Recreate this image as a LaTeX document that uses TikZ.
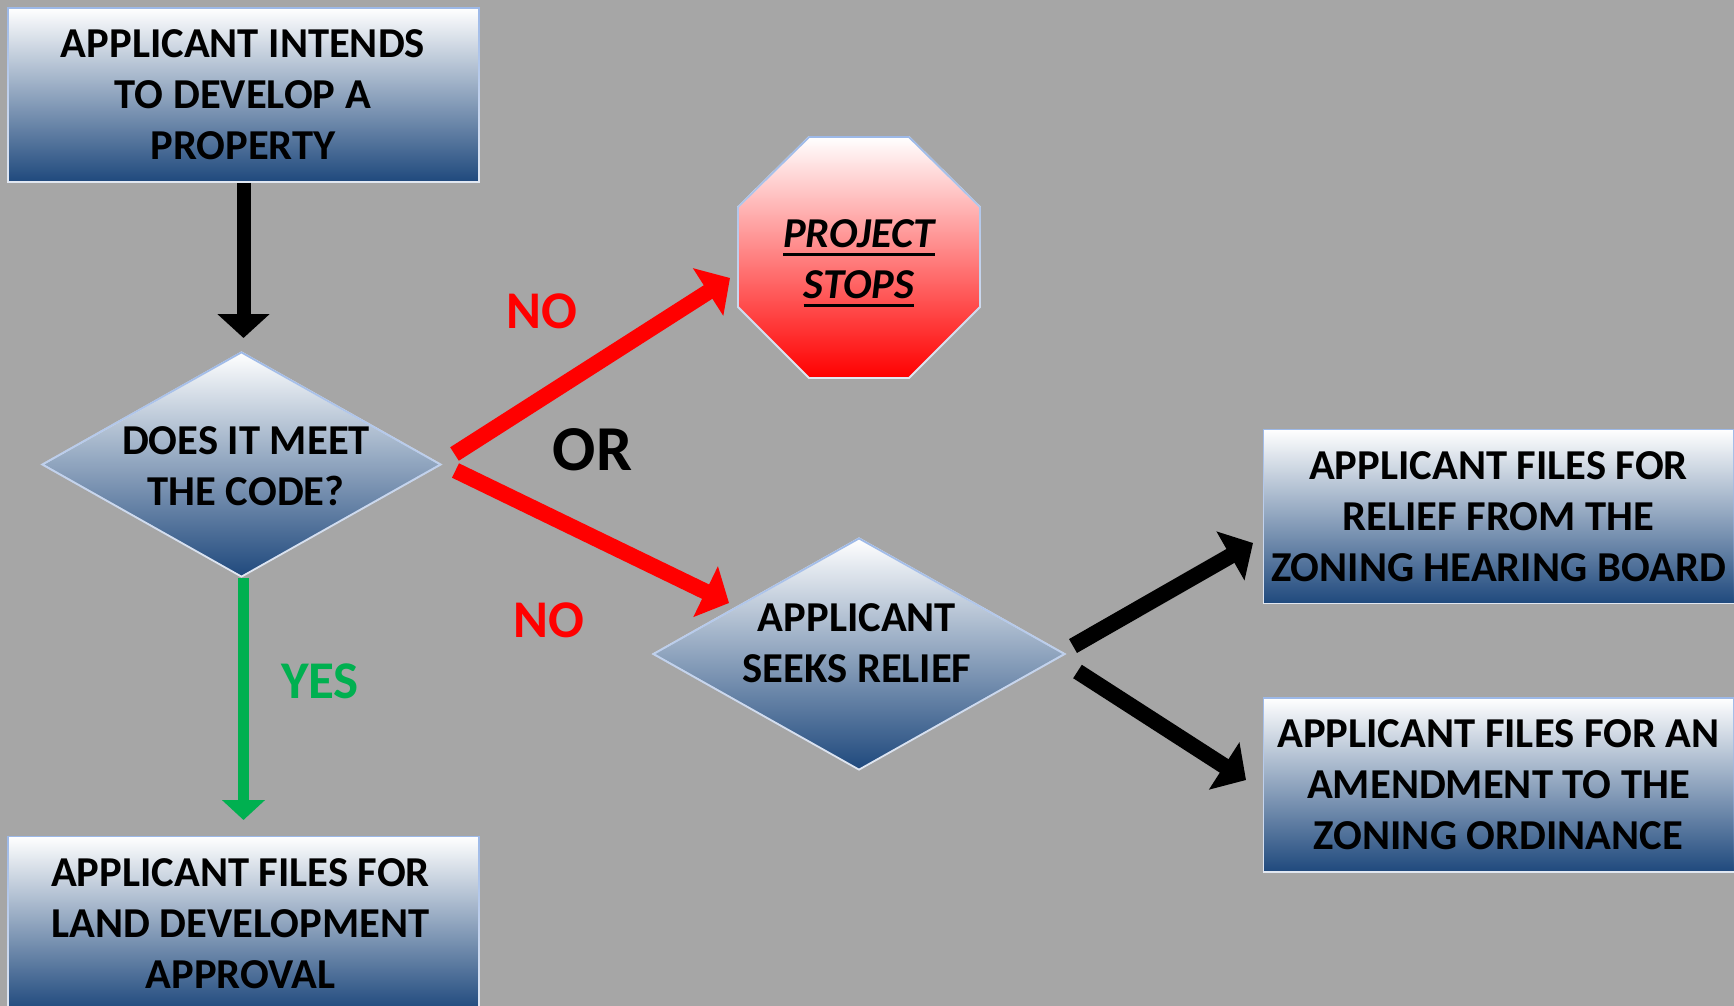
\documentclass[tikz,border=0pt]{standalone}
\usepackage{fontspec}
\setmainfont{Carlito}
\usetikzlibrary{arrows.meta,shapes.geometric,fadings}
\definecolor{bg}{HTML}{A6A6A6}
\definecolor{navy}{HTML}{1F497D}
\definecolor{edgetop}{HTML}{9DB9E8}
\definecolor{edgebot}{HTML}{E2E8F2}
\definecolor{nogreen}{HTML}{00B050}
\tikzset{
  x=1pt,y=-1pt,
  edged/.style={draw=edgebot,line width=1.8pt,
    postaction={draw=edgetop,line width=1.8pt,path fading=south}},
  bluefill/.style={top color=white,bottom color=navy},
  flowbox/.style={rectangle,bluefill,edged,inner sep=0pt,minimum width=471pt,minimum height=174pt},
  choice/.style={diamond,bluefill,edged,inner sep=0pt,aspect=1.77},
  bodytext/.style={align=center,font=\fontsize{42.6}{51}\selectfont\bfseries,inner sep=0pt},
  lab/.style={font=\fontsize{53}{60}\selectfont\bfseries,inner sep=0pt},
  bigarrow/.style={line width=16pt,-{Triangle[length=26pt,width=55pt]}},
}
\newlength{\ullen}
\newcommand{\ulrule}[1]{\settowidth{\ullen}{#1}\rlap{\rule[-8.5pt]{\ullen}{3pt}}#1}
\begin{document}
\begin{tikzpicture}
\useasboundingbox (0,0) rectangle (1734,1006);
\fill[bg] (0,0) rectangle (1734,1006);
\clip (0,0) rectangle (1734,1006);

\node[flowbox] (intends) at (243.5,95) {};
\node[flowbox] (land) at (243.5,923.5) {};
\node[flowbox] (zhb) at (1499,516.5) {};
\node[flowbox] (amend) at (1499,785) {};
\node[bodytext] (intendstext) at (243,95) {APPLICANT INTENDS\\TO DEVELOP A\\PROPERTY};
\node[bodytext] (landtext) at (240.5,923.5) {APPLICANT FILES FOR\\LAND DEVELOPMENT\\APPROVAL};
\node[bodytext] (zhbtext) at (1498.5,517) {APPLICANT FILES FOR\\RELIEF FROM THE\\ZONING HEARING BOARD};
\node[bodytext] (amendtext) at (1498.5,784.5) {APPLICANT FILES FOR AN\\AMENDMENT TO THE\\ZONING ORDINANCE};

\node[choice,minimum width=399pt,minimum height=225pt] (meet) at (241.5,464.5) {};
\node[bodytext] (meettext) at (246,466) {DOES IT MEET\\THE CODE?};
\node[choice,minimum width=412pt,minimum height=232pt] (seeks) at (859,654) {};
\node[bodytext] (seekstext) at (857,643) {APPLICANT\\SEEKS RELIEF};

\path[top color=white,bottom color=red,edged]
  (809,137) -- (909,137) -- (980,207) -- (980,307) -- (909,378)
  -- (809,378) -- (738,307) -- (738,207) -- cycle;
\node[bodytext,font=\fontsize{42.6}{51}\selectfont\bfseries\itshape] (stops) at (859,263)
  {\ulrule{PROJECT}\\\ulrule{STOPS}};

\node[lab,red] (no1) at (542,311.5) {NO};
\node[lab,red] (no2) at (548.5,620) {NO};
\node[lab,nogreen] (yes) at (320,681) {YES};
\node[font=\fontsize{64}{70}\selectfont\bfseries,inner sep=0pt] (or) at (592.5,450) {OR};

\coordinate (r1a) at (454.5,454); \coordinate (r1b) at (730,278);
\coordinate (r2a) at (455.5,470.5); \coordinate (r2b) at (729,603);
\coordinate (k1a) at (1073,646); \coordinate (k1b) at (1253,543);
\coordinate (k2a) at (1077.5,671.5); \coordinate (k2b) at (1246,780);
\coordinate (downtip) at (243.5,338);
\coordinate (greentip) at (243.5,820);

\draw[line width=14pt,-{Triangle[length=24pt,width=51pt]}] (intends.south) -- (downtip);
\draw[nogreen,line width=11pt,-{Triangle[length=20pt,width=42pt]}] (meet.south -| greentip) -- (greentip);
\draw[red,bigarrow] (r1a) -- (r1b);
\draw[red,bigarrow] (r2a) -- (r2b);
\draw[bigarrow] (k1a) -- (k1b);
\draw[bigarrow] (k2a) -- (k2b);
\end{tikzpicture}
\end{document}
